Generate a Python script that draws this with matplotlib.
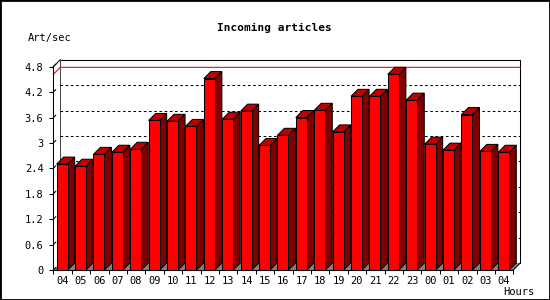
import numpy as np
import matplotlib
matplotlib.use('Agg')
import matplotlib.pyplot as plt
from matplotlib.patches import Polygon, Rectangle

# Data
hours = ['04', '05', '06', '07', '08', '09', '10', '11', '12', '13', '14', '15',
         '16', '17', '18', '19', '20', '21', '22', '23', '00', '01', '02', '03', '04']
rates = [2.50, 2.45, 2.73, 2.78, 2.85, 3.53, 3.51, 3.39, 4.52, 3.56, 3.75, 2.94,
         3.18, 3.60, 3.77, 3.26, 4.10, 4.10, 4.62, 4.01, 2.97, 2.83, 3.67, 2.80, 2.78]
yticks = [0, 0.6, 1.2, 1.8, 2.4, 3.0, 3.6, 4.2, 4.8]

FRONT = '#ff0000'
TOP = '#c00000'
SIDE = '#800000'
FLOOR = '#808080'
LW = 0.75  # ~1 pixel

W, H = 550, 300
fig = plt.figure(figsize=(W / 100, H / 100), dpi=100)
fig.patch.set_facecolor('white')
plt.rcParams['font.family'] = 'DejaVu Sans Mono'

# front plane of the plot in pixels
left, right, bottom, top = 53.3, 513.3, 270, 66.7
ax = fig.add_axes([left / W, 1 - bottom / H, (right - left) / W, (bottom - top) / H])
n = len(rates)
ymax = yticks[-1]
ax.set_xlim(0, n)
ax.set_ylim(0, ymax)
ax.patch.set_visible(False)
for s in ax.spines.values():
	s.set_visible(False)

# 3D depth, about 7 pixels
dx = 7 / ((right - left) / n)
dy = 7 / ((bottom - top) / ymax)

# back wall
ax.add_patch(Rectangle((dx, dy), n, ymax, facecolor='white', edgecolor='black',
                       lw=LW, zorder=1, clip_on=False))
# left wall / top & right connecting edges
ax.add_patch(Polygon([(0, 0), (dx, dy), (dx, ymax + dy), (0, ymax)], closed=True,
                     facecolor='white', edgecolor='none', zorder=1, clip_on=False))
ax.plot([0, dx], [ymax, ymax + dy], color='black', lw=LW, zorder=6, clip_on=False)
ax.plot([n, n + dx], [0, dy], color='black', lw=LW, zorder=6, clip_on=False)

# floor
ax.add_patch(Polygon([(0, 0), (n, 0), (n + dx, dy), (dx, dy)], closed=True,
                     facecolor=FLOOR, edgecolor='none', zorder=2, clip_on=False))

# dotted grid on the back wall
for v in yticks[1:-1]:
	ax.plot([dx, n + dx], [v + dy, v + dy], color='black', lw=LW,
	        dashes=(2.5, 2.5), zorder=2, clip_on=False)

# max line
vmax = max(rates)
ax.plot([0, dx, n + dx], [vmax, vmax + dy, vmax + dy], color='#e00000',
        lw=LW, zorder=2, clip_on=False)

# bars
bw = 0.6
off = (1 - bw) / 2 - 0.02
for i, v in enumerate(rates):
	x0 = i + off
	x1 = x0 + bw
	ax.add_patch(Polygon([(x1, 0), (x1 + dx, dy), (x1 + dx, v + dy), (x1, v)],
	                     closed=True, facecolor=SIDE, edgecolor='black',
	                     lw=LW, zorder=3, clip_on=False))
	ax.add_patch(Polygon([(x0, v), (x1, v), (x1 + dx, v + dy), (x0 + dx, v + dy)],
	                     closed=True, facecolor=TOP, edgecolor='black',
	                     lw=LW, zorder=3, clip_on=False))
	ax.add_patch(Rectangle((x0, 0), bw, v, facecolor=FRONT, edgecolor='black',
	                       lw=LW, zorder=4, clip_on=False))

# front axes
ax.plot([0, 0], [0, ymax], color='black', lw=LW, zorder=6, clip_on=False)
ax.plot([0, n], [0, 0], color='black', lw=LW, zorder=6, clip_on=False)
for v in yticks:
	ax.plot([0, 0.35 * dx], [v, v + 0.35 * dy], color='black', lw=LW,
	        zorder=6, clip_on=False)

ax.set_yticks(yticks)
ax.set_yticklabels(['%g' % v for v in yticks])
ax.set_xticks(np.arange(n + 1), minor=False)
ax.set_xticklabels([''] * (n + 1))
ax.set_xticks(np.arange(n) + 0.5, minor=True)
ax.set_xticklabels(hours, minor=True)
ax.tick_params(axis='x', which='minor', length=0, pad=4, labelsize=7.5)
ax.tick_params(axis='x', which='major', length=3, width=LW, direction='out')
ax.tick_params(axis='y', length=3, width=LW, direction='out', pad=4, labelsize=7.5)

fig.text(274 / W, 1 - 28 / H, 'Incoming articles', ha='center', va='center',
         fontsize=8, fontweight='bold')
fig.text(50 / W, 1 - 38 / H, 'Art/sec', ha='center', va='center', fontsize=7.5)
fig.text(519 / W, 1 - 292 / H, 'Hours', ha='center', va='center', fontsize=7.5)

# image border
fig.add_artist(Rectangle((0, 0), 1, 1, transform=fig.transFigure, fill=False,
                         edgecolor='black', lw=2))

fig.savefig('out.png', dpi=100)
